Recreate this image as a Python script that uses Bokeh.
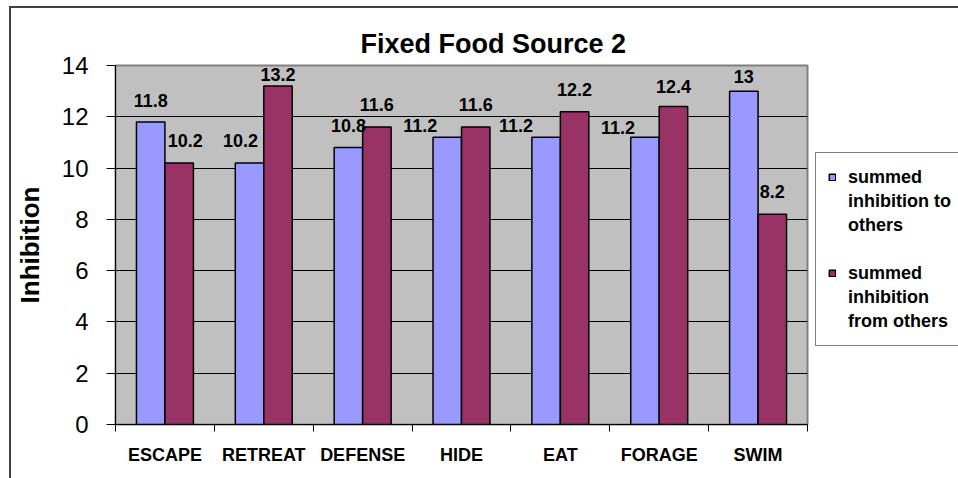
from bokeh.plotting import figure
from bokeh.models import ColumnDataSource, Range1d, FixedTicker, LabelSet, Legend, LegendItem
from bokeh.transform import dodge
from bokeh.core.properties import value
from bokeh.embed import file_html
from bokeh.resources import INLINE

categories = ["ESCAPE", "RETREAT", "DEFENSE", "HIDE", "EAT", "FORAGE", "SWIM"]
to_others = [11.8, 10.2, 10.8, 11.2, 11.2, 11.2, 13]
from_others = [10.2, 13.2, 11.6, 11.6, 12.2, 12.4, 8.2]
y_ticks = [0, 2, 4, 6, 8, 10, 12, 14]
series_to_lines = ["summed", "inhibition to", "others"]
series_from_lines = ["summed", "inhibition", "from others"]

# label nudges in pixels (style only)
to_dx = [0, -9, 0, -27, -30, -27, 0]
to_dy = [15, 16, 16, 5, 5, 3, 8]
from_dx = [6, 0, 0, 0, 0, 0, 0]
from_dy = [16, 5, 16, 16, 16, 14, 16]

FONT = "Liberation Sans"
BLUE = "#9999FF"
RED = "#993366"

idx = list(range(len(categories)))
src = ColumnDataSource(dict(
    x=idx, cat=categories, to=to_others, frm=from_others,
    to_txt=[f"{v:g}" for v in to_others], frm_txt=[f"{v:g}" for v in from_others],
    to_dx=to_dx, to_dy=to_dy, frm_dx=from_dx, frm_dy=from_dy,
))

p = figure(frame_width=692, frame_height=359, output_backend="svg", toolbar_location=None,
           x_range=Range1d(-0.5, len(categories) - 0.5), y_range=Range1d(0, 14),
           min_border_left=102, min_border_right=153, min_border_top=57, min_border_bottom=54)
p.styles = {"margin-left": "9px", "margin-top": "6px",
            "border-left": "2px solid #404040", "border-top": "2px solid #404040"}

p.background_fill_color = "#C0C0C0"
p.border_fill_color = "white"
p.outline_line_color = "#808080"
p.outline_line_width = 2

bw = 0.288
r1 = p.vbar(x=dodge("x", -bw / 2), top="to", width=bw, source=src,
            fill_color=BLUE, line_color="black", line_width=1.5)
r2 = p.vbar(x=dodge("x", bw / 2), top="frm", width=bw, source=src,
            fill_color=RED, line_color="black", line_width=1.5)
# invisible renderer used for legend continuation lines
r_blank = p.vbar(x="x", top="to", width=0.01, source=src, fill_alpha=0, line_alpha=0)

p.add_layout(LabelSet(x=dodge("x", -bw / 2), y="to", text="to_txt", source=src,
                      x_offset="to_dx", y_offset="to_dy", text_align="center",
                      text_baseline="alphabetic", text_font=value(FONT), text_font_size="18px",
                      text_font_style="bold", text_color="black"))
p.add_layout(LabelSet(x=dodge("x", bw / 2), y="frm", text="frm_txt", source=src,
                      x_offset="frm_dx", y_offset="frm_dy", text_align="center",
                      text_baseline="alphabetic", text_font=value(FONT), text_font_size="18px",
                      text_font_style="bold", text_color="black"))

# grid
p.xgrid.visible = False
p.ygrid.grid_line_color = "black"
p.ygrid.grid_line_width = 1
p.ygrid.ticker = FixedTicker(ticks=y_ticks)

# y axis
p.yaxis.ticker = FixedTicker(ticks=y_ticks)
p.yaxis.axis_label = "Inhibition"
p.yaxis.axis_label_text_font = FONT
p.yaxis.axis_label_text_font_size = "26px"
p.yaxis.axis_label_text_font_style = "bold"
p.yaxis.axis_label_text_color = "black"
p.yaxis.axis_label_standoff = 14
p.yaxis.major_label_text_font = FONT
p.yaxis.major_label_text_font_size = "24px"
p.yaxis.major_label_text_color = "black"
p.yaxis.major_tick_out = 9
p.yaxis.major_tick_in = 0
p.yaxis.minor_tick_line_color = None
p.yaxis.major_label_standoff = 18
p.yaxis.axis_line_color = "black"
p.yaxis.major_tick_line_color = "black"

# x axis: labels at category centres, ticks at boundaries
p.xaxis.ticker = FixedTicker(ticks=idx, minor_ticks=[i - 0.5 for i in range(len(categories) + 1)])
p.xaxis.major_label_overrides = {i: c for i, c in zip(idx, categories)}
p.xaxis.major_tick_out = 0
p.xaxis.major_tick_in = 0
p.xaxis.minor_tick_out = 7
p.xaxis.minor_tick_in = 0
p.xaxis.minor_tick_line_color = "black"
p.xaxis.major_label_standoff = 13
p.xaxis.major_label_text_font = FONT
p.xaxis.major_label_text_font_size = "18px"
p.xaxis.major_label_text_font_style = "bold"
p.xaxis.major_label_text_color = "black"
p.xaxis.axis_line_color = "black"

# title
p.title.text = "Fixed Food Source 2"
p.title.align = "left"
p.title.offset = 245
p.title.text_font = FONT
p.title.text_font_size = "27px"
p.title.text_font_style = "bold"
p.title.text_color = "black"
p.title.standoff = 13

items = [LegendItem(label=series_to_lines[0], renderers=[r1])]
items += [LegendItem(label=t, renderers=[r_blank]) for t in series_to_lines[1:]]
items += [LegendItem(label=" ", renderers=[r_blank])]
items += [LegendItem(label=series_from_lines[0], renderers=[r2])]
items += [LegendItem(label=t, renderers=[r_blank]) for t in series_from_lines[1:]]

legend = Legend(items=items, location=(8, 78))
legend.border_line_color = "black"
legend.border_line_width = 1
legend.background_fill_color = "white"
legend.background_fill_alpha = 1
legend.label_text_font = FONT
legend.label_text_font_size = "18px"
legend.label_text_font_style = "bold"
legend.label_text_color = "black"
legend.label_height = 24
legend.glyph_width = 8
legend.glyph_height = 8
legend.label_standoff = 12
legend.padding = 12
legend.spacing = 0
legend.margin = 0
p.add_layout(legend, "right")

open("out.html", "w").write(file_html(p, INLINE))
